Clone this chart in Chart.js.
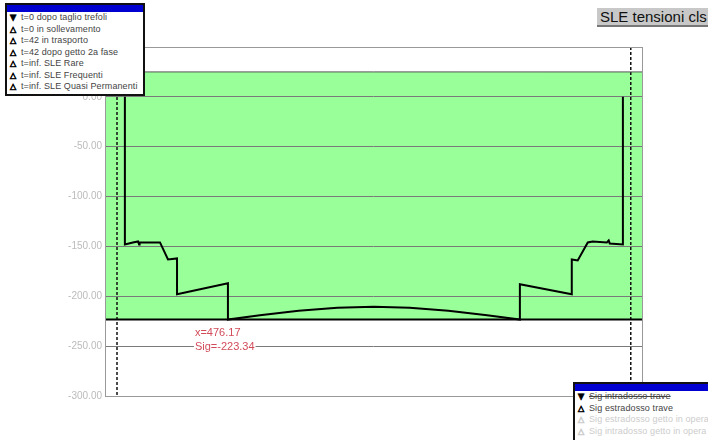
<!DOCTYPE html>
<html>
<head>
<meta charset="utf-8">
<script src="https://cdn.jsdelivr.net/npm/chart.js@4/dist/chart.umd.min.js"></script>
<style>
  body { margin: 0; background: #fff; overflow: hidden; }
  #wrap { position: relative; width: 708px; height: 440px; font-family: "Liberation Sans", Arial, sans-serif; }
  #chart { position: absolute; left: 0; top: 0; }
  .legend { position: absolute; background: #fff; border: 2px solid #111; overflow: hidden; }
  .legend .bar { height: 7px; background: #0000d0; }
  .legend .item { font-size: 9px; line-height: 11.5px; color: #444; white-space: nowrap; padding-left: 3px; letter-spacing: 0.1px; }
  .legend .mk { display: inline-block; width: 11px; font-family: "DejaVu Sans", sans-serif; font-size: 8px; font-weight: bold;
                color: #000; -webkit-text-stroke: 0.7px #000; }
  .legend .off { color: #ccc; }
  .legend .off .mk { color: #ccc; -webkit-text-stroke: 0.7px #ccc; }
  #title { position: absolute; left: 597px; top: 8px; width: 120px; height: 17px; background: #c8c8c8;
           border-bottom: 2px solid #777; font-size: 15px; line-height: 18px; padding-left: 3px; color: #111; }
</style>
</head>
<body>
<div id="wrap">
  <canvas id="chart" width="708" height="440"></canvas>
  <div id="title">SLE tensioni cls</div>
  <div class="legend" id="stageLegend" style="left:5px;top:3px;width:136px;height:89px;"></div>
  <div class="legend" id="seriesLegend" style="left:573px;top:382px;width:140px;height:70px;"></div>
</div>
<script>
// load stages (top-left legend)
const stageLabels = ["t=0 dopo taglio trefoli", "t=0 in sollevamento", "t=42 in trasporto",
  "t=42 dopo getto 2a fase", "t=inf. SLE Rare", "t=inf. SLE Frequenti", "t=inf. SLE Quasi Permanenti"];
const stageMarks = ["▼", "△", "△", "△", "△", "△", "△"];

// stress series (bottom-right legend)
const seriesLabels = ["Sig intradosso trave", "Sig estradosso trave",
  "Sig estradosso getto in opera", "Sig intradosso getto in opera"];
const seriesMarks = ["▼", "△", "△", "△"];
const seriesActive = [true, true, false, false];

// beam abscissa and top-fibre stress
const beamX = [77, 77, 108, 128, 132, 134, 155, 213, 244, 279, 279, 476.17, 476.17,
  600, 750, 900, 1041, 1180, 1330, 1480, 1607, 1607, 1808, 1808, 1831, 1870, 1889,
  1944, 1951, 1955, 2006, 2006];
const sigEstradosso = [0, -148, -146, -145, -148, -146, -146, -146, -163, -162, -198, -187, -223.34,
  -219, -214.5, -211.5, -210.5, -211.5, -214.5, -219, -223.34, -188, -198, -163, -164, -146, -145,
  -146, -144, -147, -148, 0];

// supports, allowed stress band, cursor
const supportX = [46.5, 2036.5];
const bandX = [0, 2080];
const bandTop = 25;
const bandBottom = -223.34;
const cursorX = 476.17;
const cursorSig = -223.34;

// y ticks
const yMin = -300, yMax = 50, yStep = 50;

function fillLegend(id, labels, marks, active) {
  const box = document.getElementById(id);
  box.innerHTML = '<div class="bar"></div>';
  labels.forEach((lab, i) => {
    const d = document.createElement("div");
    d.className = "item" + (active && !active[i] ? " off" : "");
    d.innerHTML = '<span class="mk">' + marks[i] + '</span>' + lab;
    if (id === "seriesLegend" && i === 0) d.style.textDecoration = "line-through";
    box.appendChild(d);
  });
}
fillLegend("stageLegend", stageLabels, stageMarks, null);
fillLegend("seriesLegend", seriesLabels, seriesMarks, seriesActive);

const pts = (xs, ys) => xs.map((x, i) => ({ x: x, y: ys[i] }));

const datasets = [
  {
    label: "band top",
    data: pts(bandX, [bandTop, bandTop]),
    borderColor: "#555", borderWidth: 1,
    backgroundColor: "#99ff99",
    fill: "+1"
  },
  {
    label: "band bottom",
    data: pts(bandX, [bandBottom, bandBottom]),
    borderColor: "#000", borderWidth: 2, fill: false
  },
  ...supportX.map(sx => ({
    label: "support",
    data: pts([sx, sx], [yMax, yMin]),
    borderColor: "#111", borderWidth: 1.5, borderDash: [3, 2], fill: false
  })),
  {
    label: seriesLabels[1],
    data: pts(beamX, sigEstradosso),
    borderColor: "#000", borderWidth: 2, fill: false
  }
];

const framePlugin = {
  id: "frame",
  afterDatasetsDraw(chart) {
    const { ctx, chartArea: a, scales } = chart;
    ctx.save();
    ctx.strokeStyle = "#999";
    ctx.lineWidth = 1;
    ctx.strokeRect(a.left + 0.5, a.top + 0.5, a.right - a.left, a.bottom - a.top);
    // cursor readout
    const px = scales.x.getPixelForValue(cursorX);
    const py = scales.y.getPixelForValue(cursorSig);
    ctx.font = "11px 'Liberation Sans', Arial, sans-serif";
    ctx.textBaseline = "middle";
    const t1 = "x=" + cursorX.toFixed(2);
    const t2 = "Sig=" + cursorSig.toFixed(2);
    const lx = px - 33;
    ctx.fillStyle = "#fff";
    ctx.fillRect(lx - 1, py + 20, ctx.measureText(t2).width + 2, 14);
    ctx.fillStyle = "#d24b5a";
    ctx.fillText(t1, lx, py + 13);
    ctx.fillText(t2, lx, py + 27);
    ctx.restore();
  }
};

new Chart(document.getElementById("chart"), {
  type: "line",
  data: { datasets: datasets },
  options: {
    responsive: false,
    animation: false,
    layout: { padding: { left: 0, right: 66, top: 47, bottom: 44 } },
    elements: { point: { radius: 0 }, line: { tension: 0 } },
    plugins: {
      legend: { display: false },
      tooltip: { enabled: false },
      filler: { drawTime: "beforeDraw" }
    },
    scales: {
      x: { type: "linear", min: bandX[0], max: bandX[1], display: false },
      y: {
        min: yMin, max: yMax,
        afterFit: s => { s.width = 105; },
        border: { display: false },
        grid: { color: "#7a7a7a", lineWidth: 1, drawTicks: false },
        ticks: {
          stepSize: yStep, padding: 3, color: "#bbb",
          font: { family: "'Liberation Sans', Arial, sans-serif", size: 10 },
          callback: v => v === yMax ? "" : v.toFixed(2)
        }
      }
    }
  },
  plugins: [framePlugin]
});
</script>
</body>
</html>
